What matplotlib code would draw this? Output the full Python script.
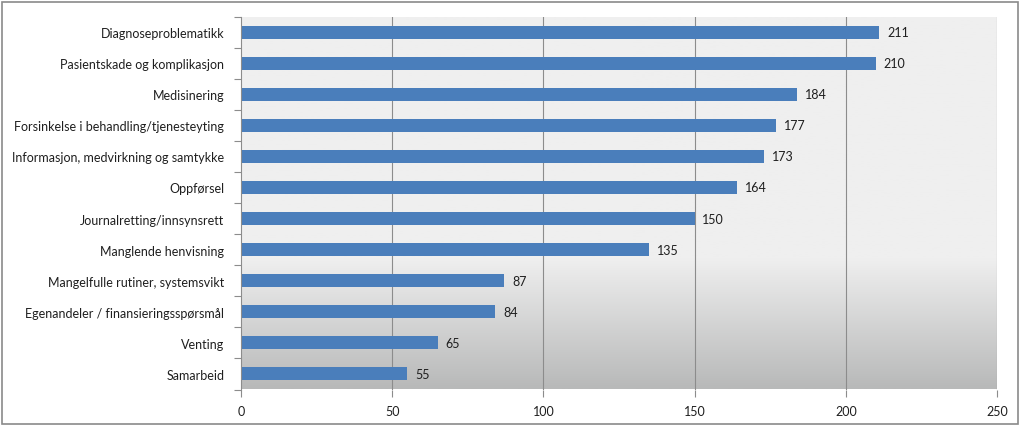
import numpy as np
import matplotlib
matplotlib.use("Agg")
import matplotlib.pyplot as plt
from matplotlib.colors import LinearSegmentedColormap
from matplotlib.patches import Rectangle

categories = [
    "Diagnoseproblematikk",
    "Pasientskade og komplikasjon",
    "Medisinering",
    "Forsinkelse i behandling/tjenesteyting",
    "Informasjon, medvirkning og samtykke",
    "Oppførsel",
    "Journalretting/innsynsrett",
    "Manglende henvisning",
    "Mangelfulle rutiner, systemsvikt",
    "Egenandeler / finansieringsspørsmål",
    "Venting",
    "Samarbeid",
]
values = [211, 210, 184, 177, 173, 164, 150, 135, 87, 84, 65, 55]
xticks = [0, 50, 100, 150, 200, 250]

plt.rcParams['font.family'] = ['Lato', 'DejaVu Sans']

fig = plt.figure(figsize=(10.24, 4.27), dpi=100)
ax = fig.add_axes([241 / 1024, 1 - 390.5 / 427, 756 / 1024, 373 / 427])

n = len(categories)
y = np.arange(n)

# background gradient: flat light grey on top, darker towards the bottom
pos = np.linspace(0, 1, 200)  # 0 = bottom, 1 = top
grad = np.clip(pos / 0.35, 0, 1)
cmap = LinearSegmentedColormap.from_list("bg", ["#b8b9b9", "#efefef"])
ax.imshow(grad[::-1].reshape(-1, 1), aspect="auto", cmap=cmap,
          extent=[0, 250, n - 0.5, -0.5], zorder=0, vmin=0, vmax=1)

for xv in xticks[1:]:
    ax.axvline(xv, color="#8c8c8c", lw=0.8, zorder=1)

ax.barh(y, values, height=0.42, color="#4a7ebb", zorder=2)
for yi, v in zip(y, values):
    ax.text(v + 2.6, yi, str(v), va="center", ha="left", fontsize=9, color="#1f1f1f")

ax.set_xlim(0, 250)
ax.set_ylim(n - 0.5, -0.5)
ax.set_xticks(xticks)
ax.set_xticklabels([str(v) for v in xticks], fontsize=9, color="#1f1f1f")
ax.set_yticks(y)
ax.set_yticklabels(categories, fontsize=9, color="#1f1f1f")
ax.set_yticks(np.arange(-0.5, n, 1), minor=True)
ax.tick_params(axis="y", which="major", length=0, pad=12)
ax.tick_params(axis="y", which="minor", length=5, color="#8c8c8c", width=0.8)
ax.tick_params(axis="x", length=5, color="#8c8c8c", width=0.8, pad=6)

for s in ["top", "right", "bottom"]:
    ax.spines[s].set_visible(False)
ax.spines["left"].set_color("#8c8c8c")
ax.spines["left"].set_linewidth(0.8)

fig.patches.append(Rectangle((2 / 1024, 2 / 427), 1016 / 1024, 422 / 427,
                             transform=fig.transFigure, fill=False,
                             edgecolor="#8a8a8a", lw=1.2))

fig.savefig("out.png", dpi=100)
